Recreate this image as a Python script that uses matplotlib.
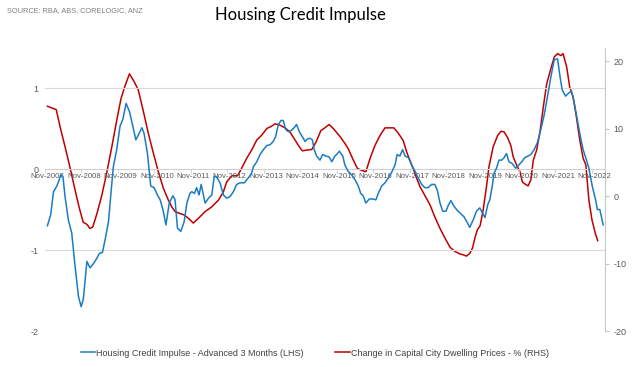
import matplotlib
matplotlib.use("Agg")
import matplotlib.pyplot as plt
from matplotlib.lines import Line2D

# months since Nov-2007
credit_t = [0, 1.1, 2.0, 3.1, 3.9, 4.4, 5.1, 5.8, 6.9, 8.0, 9.1, 10.2, 11.1, 11.8, 13.0, 14.0, 15.1,
            16.3, 17.1, 18.1, 19.0, 20.1, 20.9, 21.7, 22.8, 23.9, 24.8, 25.9, 27.0, 28.1, 29.1, 29.9,
            31.1, 31.8, 32.9, 34.0, 35.1, 36.2, 37.1, 38.0, 39.0, 40.1, 41.3, 42.0, 42.8, 43.9, 45.0,
            45.9, 46.9, 47.5, 48.4, 49.1, 49.9, 50.6, 51.9, 53.0, 54.1, 54.9, 55.7, 56.8, 57.9, 59.0,
            60.1, 61.2, 62.3, 63.4, 64.8, 66.1, 67.2, 67.8, 68.9, 70.0, 71.1, 72.2, 73.3, 74.3, 75.1,
            76.0, 76.9, 77.6, 78.4, 79.3, 80.4, 81.2, 82.0, 82.9, 83.9, 84.8, 85.5, 86.4, 87.2, 87.8,
            88.6, 89.7, 90.6, 91.6, 92.7, 93.6, 94.6, 95.2, 96.1, 97.2, 97.9, 99.0, 100.1, 101.2,
            102.3, 103.1, 103.9, 104.8, 105.9, 107.0, 108.1, 108.9, 110.0, 111.1, 112.2, 113.3,
            114.4, 115.1, 116.0, 116.9, 117.7, 118.8, 119.9, 121.0, 122.0, 123.2, 124.2, 125.3,
            126.4, 127.5, 128.3, 129.2, 130.1, 131.2, 131.9, 132.8, 133.8, 134.9, 136.0, 137.1,
            138.0, 139.0, 140.1, 141.2, 142.3, 144.0, 144.9, 145.6, 146.4, 147.0, 147.8, 148.6,
            149.5, 150.3, 151.1, 151.9, 152.9, 154.1, 154.9, 156.1, 157.1, 158.2, 159.1, 160.2,
            161.3, 162.4, 163.5, 164.6, 165.7, 166.8, 167.9, 168.7, 169.4, 170.5, 171.6, 172.5,
            173.3, 174.1, 175.2, 176.3, 177.4, 178.2, 179.3, 180.4, 181.0, 181.8, 182.9]
credit_v = [-0.70, -0.56, -0.28, -0.21, -0.13, -0.07, -0.09, -0.34, -0.63, -0.79, -1.20, -1.57,
            -1.70, -1.61, -1.14, -1.22, -1.17, -1.10, -1.04, -1.03, -0.87, -0.65, -0.30, 0.03,
            0.24, 0.53, 0.61, 0.81, 0.71, 0.53, 0.36, 0.42, 0.51, 0.44, 0.20, -0.21, -0.23, -0.32,
            -0.38, -0.50, -0.69, -0.42, -0.33, -0.38, -0.73, -0.77, -0.65, -0.42, -0.30, -0.28,
            -0.30, -0.23, -0.32, -0.19, -0.42, -0.36, -0.32, -0.09, -0.10, -0.17, -0.32, -0.36,
            -0.34, -0.28, -0.19, -0.17, -0.17, -0.11, -0.05, 0.03, 0.09, 0.18, 0.24, 0.29, 0.30,
            0.34, 0.40, 0.55, 0.60, 0.60, 0.49, 0.46, 0.48, 0.51, 0.55, 0.46, 0.40, 0.34, 0.37,
            0.38, 0.36, 0.24, 0.16, 0.11, 0.18, 0.16, 0.15, 0.09, 0.16, 0.18, 0.22, 0.16, 0.05,
            -0.03, -0.07, -0.13, -0.21, -0.30, -0.33, -0.42, -0.37, -0.37, -0.38, -0.30, -0.21,
            -0.17, -0.11, -0.04, 0.05, 0.18, 0.16, 0.24, 0.16, 0.14, 0.05, -0.03, -0.11, -0.19,
            -0.23, -0.23, -0.19, -0.19, -0.26, -0.42, -0.52, -0.52, -0.45, -0.39, -0.46, -0.51,
            -0.55, -0.59, -0.65, -0.72, -0.63, -0.52, -0.48, -0.60, -0.44, -0.38, -0.21, -0.05,
            0.01, 0.11, 0.11, 0.14, 0.19, 0.09, 0.07, 0.01, 0.04, 0.09, 0.14, 0.16, 0.18, 0.24,
            0.33, 0.49, 0.67, 0.90, 1.14, 1.35, 1.36, 1.14, 0.98, 0.90, 0.94, 0.96, 0.83, 0.67,
            0.44, 0.24, 0.11, 0.01, -0.21, -0.38, -0.50, -0.50, -0.69]

prices_t = [0, 2.9, 4.2, 5.8, 7.5, 9.1, 10.5, 11.8, 13.0, 14.0, 14.9, 16.3, 17.9, 19.5, 21.2, 22.8,
            24.2, 25.6, 27.0, 28.6, 29.9, 31.6, 33.2, 34.9, 36.5, 38.2, 39.8, 40.9, 42.0, 43.7, 45.0,
            46.4, 48.0, 49.7, 51.9, 54.1, 56.3, 57.9, 59.0, 60.7, 62.6, 63.9, 65.6, 67.2, 68.9, 70.5,
            72.2, 73.6, 74.9, 76.5, 78.2, 79.8, 81.5, 82.9, 83.9, 85.3, 87.0, 88.4, 90.0, 91.3, 92.7,
            94.1, 96.3, 97.9, 99.0, 100.7, 102.0, 103.4, 104.8, 106.2, 107.8, 109.5, 111.1, 112.5,
            114.0, 115.5, 117.1, 118.4, 119.9, 121.3, 122.6, 124.2, 125.9, 127.5, 129.2, 130.8,
            132.5, 134.1, 135.8, 136.8, 137.9, 139.0, 139.9, 140.7, 141.5, 142.4, 143.4, 144.5,
            145.3, 146.7, 148.2, 149.3, 150.3, 151.4, 152.5, 153.3, 154.4, 155.5, 156.3, 157.1,
            158.2, 159.1, 159.9, 161.0, 162.1, 163.2, 164.3, 165.7, 166.8, 167.9, 169.0, 169.7,
            170.9, 171.9, 173.0, 174.1, 175.2, 176.3, 177.2, 178.2, 179.2, 180.3, 181.1]
prices_v = [13.3, 12.8, 10.2, 7.3, 4.1, 0.9, -1.8, -3.9, -4.2, -4.8, -4.6, -2.6, 0.1, 3.4, 7.3, 11.2,
            14.4, 16.4, 18.1, 16.9, 15.7, 12.5, 9.3, 6.3, 3.6, 1.1, -0.6, -1.6, -2.3, -2.6, -2.8,
            -3.3, -4.0, -3.3, -2.3, -1.6, -0.6, 0.6, 2.1, 3.0, 3.0, 4.1, 5.6, 6.8, 8.3, 9.0,
            10.0, 10.3, 10.7, 10.5, 10.1, 9.5, 8.3, 7.3, 6.7, 6.8, 6.9, 8.0, 9.7, 10.1, 10.6,
            10.0, 8.8, 7.8, 7.0, 5.3, 4.1, 3.8, 3.6, 5.6, 7.5, 9.0, 10.1, 10.1,
            10.1, 9.3, 8.2, 6.3, 4.6, 2.9, 1.4, 0.1, -1.3, -3.1, -4.8, -6.2,
            -7.6, -8.2, -8.6, -8.7, -8.9, -8.5, -7.7, -6.2, -5.0, -4.4, -2.1, 1.4,
            4.3, 7.3, 9.0, 9.6, 9.5, 8.7, 7.5, 5.8, 4.6, 3.6, 2.1, 1.8,
            1.5, 2.4, 5.3, 6.8, 9.5, 13.2, 16.6, 18.9, 20.6, 21.1, 20.8, 21.1,
            19.1, 16.1, 14.7, 11.7, 8.3, 5.6, 4.6, -0.6, -3.5, -5.5, -6.6]

year_labels = ["Nov-2007", "Nov-2008", "Nov-2009", "Nov-2010", "Nov-2011", "Nov-2012", "Nov-2013",
               "Nov-2014", "Nov-2015", "Nov-2016", "Nov-2017", "Nov-2018", "Nov-2019", "Nov-2020",
               "Nov-2021", "Nov-2022"]
left_ticks = [-2, -1, 0, 1]
right_ticks = [-20, -10, 0, 10, 20]

BLUE = "#1a7cc1"
RED = "#c00000"
TXT = "#595959"
FONT = "Liberation Sans"

fig = plt.figure(figsize=(6.4, 3.67), dpi=100)
ax = fig.add_axes([0.0703, 0.098, 0.875, 0.7725])
ax2 = ax.twinx()

# gridlines (left axis)
for v in left_ticks:
    if v != 0:
        ax.axhline(v, color="#d9d9d9", lw=0.8, zorder=0)

ln1, = ax.plot(credit_t, credit_v, color=BLUE, lw=1.1, zorder=3)
ln2, = ax2.plot(prices_t, prices_v, color=RED, lw=1.1, zorder=3)

for s in ["top", "left", "right"]:
    ax.spines[s].set_visible(False)
ax.spines["bottom"].set_position(("data", 0))
ax.spines["bottom"].set_color("#d0d0d0")
ax.spines["bottom"].set_linewidth(0.8)

xt = [12 * i for i in range(len(year_labels))]
ax.set_xticks(xt)
ax.set_xticklabels(year_labels, fontsize=5.6, color=TXT, family=FONT)
ax.tick_params(axis="x", length=0, pad=2.5)
ax.set_xticks([x - 0.8 for x in xt], minor=True)
ax.tick_params(axis="x", which="minor", length=3, color="#d0d0d0", direction="out")

ax.set_yticks(left_ticks)
ax.set_yticklabels([str(v) for v in left_ticks], fontsize=6.5, color=TXT, family=FONT)
ax.tick_params(axis="y", length=0, pad=4.5)

for s in ["top", "left", "bottom"]:
    ax2.spines[s].set_visible(False)
ax2.spines["right"].set_color("#c8c8c8")
ax2.spines["right"].set_linewidth(0.8)
ax2.set_yticks(right_ticks)
ax2.set_yticklabels([str(v) for v in right_ticks], fontsize=6.5, color=TXT, family=FONT)
ax2.tick_params(axis="y", length=3, color="#c8c8c8", pad=3)
ax.set_zorder(ax2.get_zorder() + 1)
ax.patch.set_visible(False)

ax.set_xlim(-0.8, 183.5)
ax.set_ylim(-2, 1.5)
ax2.set_ylim(-20, 22)

fig.text(0.469, 0.958, "Housing Credit Impulse", ha="center", va="center", fontsize=12,
         family="Lato", color="#000000")
fig.text(0.011, 0.972, "SOURCE: RBA, ABS, CORELOGIC, ANZ", ha="left", va="center", fontsize=5.3,
         family=FONT, color="#7f7f7f")

handles = [Line2D([], [], color=BLUE, lw=1.1), Line2D([], [], color=RED, lw=1.1)]
fig.legend(handles, ["Housing Credit Impulse - Advanced 3 Months (LHS)",
                     "Change in Capital City Dwelling Prices - % (RHS)"],
           loc="center", bbox_to_anchor=(0.492, 0.038), ncol=2, frameon=False,
           prop={"family": FONT, "size": 6.5}, handlelength=1.6, handletextpad=0.15,
           columnspacing=3.5, labelcolor="#404040")

fig.savefig("out.png", dpi=100)
